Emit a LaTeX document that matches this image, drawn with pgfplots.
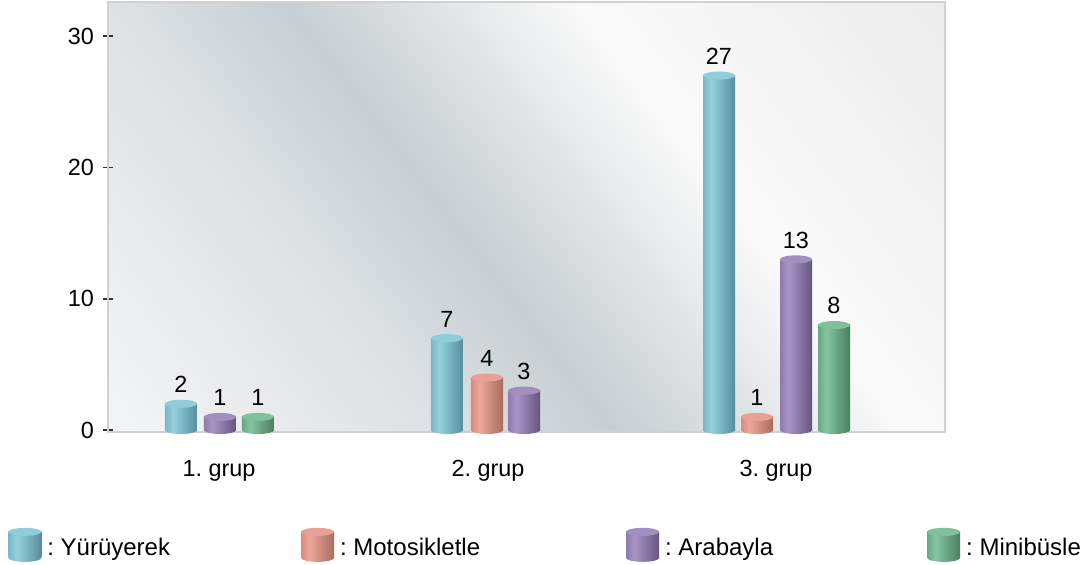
\documentclass[border=0pt]{standalone}
\usepackage{fontspec}
\setmainfont{Liberation Sans}
\usepackage{pgfplots}
\pgfplotsset{compat=1.18}
\usetikzlibrary{calc}

% background colours
\definecolor{bg0}{HTML}{F4F5F6}
\definecolor{bg1}{HTML}{DEE2E5}
\definecolor{bg2}{HTML}{C8CED2}
\definecolor{bg3}{HTML}{FAFAFA}
\definecolor{bg4}{HTML}{ECECEC}
\pgfdeclarehorizontalshading{bgshade}{100bp}{color(0bp)=(bg0); color(25bp)=(bg0); color(39.2bp)=(bg1); color(46.7bp)=(bg2); color(59.3bp)=(bg3); color(75bp)=(bg4); color(100bp)=(bg4)}

% cylinder colours: edge, light, dark, top
\definecolor{cYe}{HTML}{7AB6C4}\definecolor{cYl}{HTML}{95D0DC}\definecolor{cYd}{HTML}{578E9D}\definecolor{cYt}{HTML}{8ECDD9}
\definecolor{cMe}{HTML}{D98C80}\definecolor{cMl}{HTML}{EDA799}\definecolor{cMd}{HTML}{AA6B60}\definecolor{cMt}{HTML}{E8A294}
\definecolor{cAe}{HTML}{8E7BAB}\definecolor{cAl}{HTML}{A995C5}\definecolor{cAd}{HTML}{65557E}\definecolor{cAt}{HTML}{A18FBF}
\definecolor{cNe}{HTML}{6AA884}\definecolor{cNl}{HTML}{84C5A0}\definecolor{cNd}{HTML}{4A7F60}\definecolor{cNt}{HTML}{80C19B}

\newcommand\cylinder[5]{%
  \pgfdeclarehorizontalshading{cyl#1}{100bp}{color(0bp)=(#2); color(25bp)=(#2); color(38bp)=(#3); color(75bp)=(#4); color(100bp)=(#4)}%
  \pgfdeclareplotmark{bot#1}{\shade[draw=none, shading=cyl#1] (-8pt,0pt) arc[start angle=180,end angle=360,x radius=8pt,y radius=2pt] -- cycle;}%
  \pgfdeclareplotmark{top#1}{\fill[draw=none, #5] (0pt,0pt) ellipse[x radius=8pt,y radius=2pt];}%
}
\cylinder{Y}{cYe}{cYl}{cYd}{cYt}
\cylinder{M}{cMe}{cMl}{cMd}{cMt}
\cylinder{A}{cAe}{cAl}{cAd}{cAt}
\cylinder{N}{cNe}{cNl}{cNd}{cNt}

\newcommand\cylicon[2]{%
  \shade[draw=none, shading=cyl#1] (0pt,-5pt) rectangle (16.5pt,8pt);
  \shade[draw=none, shading=cyl#1] (0pt,-5pt) arc[start angle=180,end angle=360,x radius=8.25pt,y radius=2pt] -- cycle;
  \fill[draw=none, #2] (8.25pt,8pt) ellipse[x radius=8.25pt,y radius=2pt];
}

\newcommand\lbl{\fontsize{11.7}{14}\selectfont}

\pgfplotsset{
  cyl/.style={ybar, bar shift=0pt, bar width=32, draw=none, shade, shading=cyl#1,
    nodes near coords, forget plot,
    every node near coord/.append style={font=\lbl, text=black, yshift=2pt}},
}
% one cylinder: series, x position, value
\newcommand\cylbar[3]{%
  \addplot[only marks, mark=bot#1, forget plot] coordinates {(#2,0)};
  \addplot[cyl=#1] coordinates {(#2,#3)};
  \addplot[only marks, mark=top#1, forget plot] coordinates {(#2,#3)};
}

\frenchspacing
\begin{document}
\begin{tikzpicture}
\begin{axis}[
  scale only axis, width=418.5pt, height=215pt,
  xmin=108, xmax=945, ymin=-0.15, ymax=32.6,
  clip=false,
  axis background/.style={path picture={
    \shade[shading=bgshade, transform canvas={rotate around={37.5:(path picture bounding box.center)}}]
      ($(path picture bounding box.center)+(-231.5pt,-212.5pt)$) rectangle ++(463pt,425pt);}},
  axis line style={draw=black!18, line width=0.6pt},
  xtick={219,488,776}, xticklabels={1. grup,2. grup,3. grup},
  x tick style={draw=none},
  ytick={0,10,20,30}, ytick pos=left, xtick pos=bottom,
  y tick style={draw=black!80, line width=0.8pt},
  tick align=center, major tick length=5pt,
  tick label style={font=\lbl},
  /pgf/number format/assume math mode=true,
  yticklabel style={xshift=-1pt},
  xticklabel style={yshift=-8pt},
  legend style={draw=none, fill=none, at={(-0.1195,-0.222)}, anchor=north west,
    legend columns=4, font=\fontsize{12}{14}\selectfont, inner sep=0pt,
    /tikz/column 2/.style={column sep=64.5pt},
    /tikz/column 4/.style={column sep=72pt},
    /tikz/column 6/.style={column sep=76pt},
    nodes={inner sep=1pt}},
  legend cell align=left,
]
% 1. grup
\cylbar{Y}{181}{2}
\cylbar{A}{220}{1}
\cylbar{N}{258}{1}
% 2. grup
\cylbar{Y}{447}{7}
\cylbar{M}{487}{4}
\cylbar{A}{524}{3}
% 3. grup
\cylbar{Y}{719}{27}
\cylbar{M}{757}{1}
\cylbar{A}{796}{13}
\cylbar{N}{834}{8}

\addlegendimage{legend image code/.code={\cylicon{Y}{cYt}}}
\addlegendentry{\hspace{2pt}: Yürüyerek}
\addlegendimage{legend image code/.code={\cylicon{M}{cMt}}}
\addlegendentry{\hspace{2pt}: Motosikletle}
\addlegendimage{legend image code/.code={\cylicon{A}{cAt}}}
\addlegendentry{\hspace{2pt}: Arabayla}
\addlegendimage{legend image code/.code={\cylicon{N}{cNt}}}
\addlegendentry{\hspace{2pt}: Minibüsle}
\end{axis}
\path (current axis.south west) ++(-54pt,-66pt);
\path (current axis.north east) ++(69.5pt,1pt);
\end{tikzpicture}
\end{document}
